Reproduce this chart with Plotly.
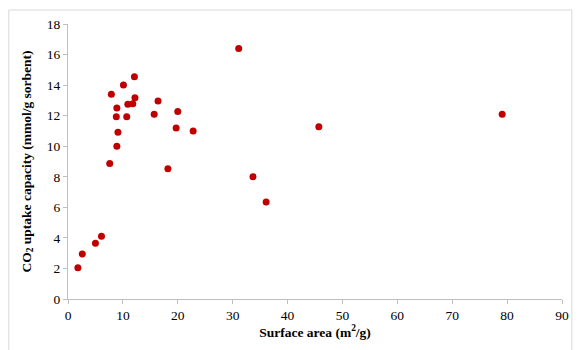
import plotly.graph_objects as go

surface_area = [1.8, 2.6, 5.0, 6.1, 7.6, 7.9, 8.8, 8.9, 8.9, 9.1, 10.1, 10.7, 10.9, 11.8,
                12.1, 12.2, 15.7, 16.4, 18.2, 19.7, 20.0, 22.8, 31.1, 33.7, 36.1, 45.7, 79.1]
co2_uptake = [2.05, 2.95, 3.65, 4.1, 8.87, 13.4, 11.93, 10.0, 12.5, 10.92, 14.0, 11.93, 12.74, 12.78,
              14.54, 13.18, 12.1, 12.96, 8.53, 11.2, 12.28, 11.0, 16.4, 8.0, 6.35, 11.27, 12.09]

x_ticks = [0, 10, 20, 30, 40, 50, 60, 70, 80, 90]
y_ticks = [0, 2, 4, 6, 8, 10, 12, 14, 16, 18]

font = "Liberation Serif"

fig = go.Figure()
fig.add_trace(go.Scatter(
    x=surface_area, y=co2_uptake, mode="markers",
    marker=dict(color="#C00000", size=7, line=dict(width=0)),
    showlegend=False,
))

axis_common = dict(
    showgrid=False, zeroline=False, showline=True, linecolor="#bfbfbf", linewidth=1,
    ticks="outside", ticklen=4, tickcolor="#bfbfbf",
    tickfont=dict(family=font, size=13.5, color="#000"),
)

fig.update_layout(
    width=578, height=350,
    margin=dict(l=68, r=9, t=24, b=51),
    paper_bgcolor="white", plot_bgcolor="white",
    font=dict(family=font, color="#000"),
    xaxis=dict(range=[0, 90], tickvals=x_ticks, **axis_common,
               title=dict(text="<b>Surface area (m<sup>2</sup>/g)</b>",
                          font=dict(family=font, size=13.5), standoff=5)),
    yaxis=dict(range=[0, 18], tickvals=y_ticks, **axis_common,
               title=dict(text="<b>CO<sub>2</sub> uptake capacity (mmol/g sorbent)</b>",
                          font=dict(family=font, size=13.5), standoff=12)),
    shapes=[dict(type="rect", xref="paper", yref="paper",
                 x0=-0.1198, x1=1.02, y0=-0.19, y1=1.0509,
                 line=dict(color="#d9d9d9", width=1), layer="below")],
)

fig.write_html("out.html")
